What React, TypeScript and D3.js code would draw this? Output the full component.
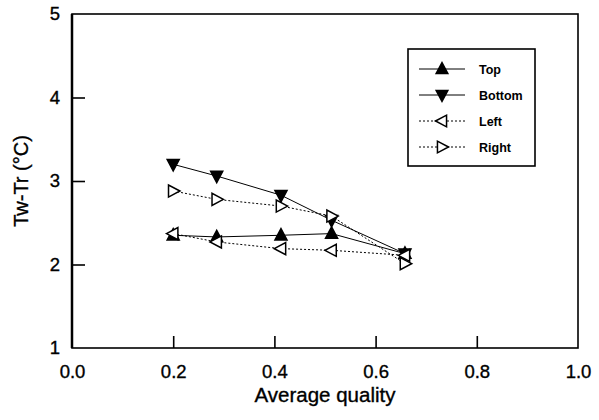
import React, { useEffect, useRef } from 'react';
import * as d3 from 'd3';

// x positions (average quality)
const quality = [0.2, 0.286, 0.413, 0.513, 0.658];
// Tw-Tr values per location
const topVals = [2.35, 2.33, 2.35, 2.37, 2.13];
const bottomVals = [3.2, 3.06, 2.83, 2.53, 2.13];
const leftVals = [2.37, 2.27, 2.19, 2.17, 2.11];
const rightVals = [2.88, 2.78, 2.7, 2.58, 2.01];

const seriesNames = ['Top', 'Bottom', 'Left', 'Right'];
const xTicks = [0.0, 0.2, 0.4, 0.6, 0.8, 1.0];
const yTicks = [1, 2, 3, 4, 5];

const App = () => {
  const svgRef = useRef<SVGSVGElement>(null);

  useEffect(() => {
    const svg = d3.select(svgRef.current);
    svg.selectAll('*').remove();

    const x = d3.scaleLinear().domain([0, 1]).range([72, 578]);
    const y = d3.scaleLinear().domain([1, 5]).range([348, 14]);
    const font = 'Arial, "Liberation Sans", sans-serif';

    // triangle path helpers
    const tri = (dir: string, s: number) => {
      if (dir === 'up') return `M0,${-s}L${s * 0.9},${s * 0.7}L${-s * 0.9},${s * 0.7}Z`;
      if (dir === 'down') return `M0,${s}L${s * 0.9},${-s * 0.7}L${-s * 0.9},${-s * 0.7}Z`;
      if (dir === 'left') return `M${-s},0L${s * 0.7},${-s * 0.9}L${s * 0.7},${s * 0.9}Z`;
      return `M${s},0L${-s * 0.7},${-s * 0.9}L${-s * 0.7},${s * 0.9}Z`;
    };

    const series = [
      { name: seriesNames[0], vals: topVals, dir: 'up', fill: '#000', dash: null },
      { name: seriesNames[1], vals: bottomVals, dir: 'down', fill: '#000', dash: null },
      { name: seriesNames[2], vals: leftVals, dir: 'left', fill: '#fff', dash: '2,2' },
      { name: seriesNames[3], vals: rightVals, dir: 'right', fill: '#fff', dash: '2,2' },
    ];

    // frame
    svg.append('rect')
      .attr('x', x(0)).attr('y', y(5))
      .attr('width', x(1) - x(0)).attr('height', y(1) - y(5))
      .attr('fill', 'none').attr('stroke', '#000').attr('stroke-width', 1.6);
    svg.append('line')
      .attr('x1', x(0)).attr('x2', x(0)).attr('y1', y(5)).attr('y2', y(1))
      .attr('stroke', '#000').attr('stroke-width', 2.5);

    const styleText = (sel: any, size: number) =>
      sel.attr('font-size', size).attr('font-family', font).attr('fill', '#000')
        .attr('stroke', '#000').attr('stroke-width', 0.35);

    // axes
    const xAxis = svg.append('g')
      .attr('transform', `translate(0,${y(1)})`)
      .call(d3.axisBottom(x).tickValues(xTicks).tickFormat(d3.format('.1f')).tickSizeInner(-12).tickSizeOuter(0).tickPadding(17));
    xAxis.select('.domain').remove();
    xAxis.selectAll('line').attr('stroke-width', 1.6).filter((d: any) => d === 0 || d === 1).remove();
    styleText(xAxis.selectAll('text'), 18.5);

    const yAxis = svg.append('g')
      .attr('transform', `translate(${x(0)},0)`)
      .call(d3.axisLeft(y).tickValues(yTicks).tickFormat(d3.format('d')).tickSizeInner(-13).tickSizeOuter(0).tickPadding(12));
    yAxis.select('.domain').remove();
    yAxis.selectAll('line').attr('stroke-width', 1.6).filter((d: any) => d === 1 || d === 5).remove();
    styleText(yAxis.selectAll('text'), 18.5);

    // axis titles
    styleText(svg.append('text')
      .attr('x', x(0.5)).attr('y', 402)
      .attr('text-anchor', 'middle')
      .text('Average quality'), 20.5);
    styleText(svg.append('text')
      .attr('transform', `translate(28,${y(3)}) rotate(-90)`)
      .attr('text-anchor', 'middle')
      .text('Tw-Tr (°C)'), 20);

    // lines and markers
    const line = d3.line<number>().x((_, i) => x(quality[i])).y(d => y(d));
    series.forEach(s => {
      svg.append('path')
        .attr('d', line(s.vals))
        .attr('fill', 'none').attr('stroke', '#000').attr('stroke-width', 1)
        .attr('stroke-dasharray', s.dash);
      svg.append('g').selectAll('path')
        .data(s.vals).join('path')
        .attr('transform', (d, i) => `translate(${x(quality[i])},${y(d)})`)
        .attr('d', tri(s.dir, 6.7))
        .attr('fill', s.fill).attr('stroke', '#000').attr('stroke-width', 1.5);
    });

    // legend
    const lg = svg.append('g');
    lg.append('rect')
      .attr('x', 408).attr('y', 49).attr('width', 127).attr('height', 117)
      .attr('fill', '#fff').attr('stroke', '#000').attr('stroke-width', 1.6);
    series.forEach((s, i) => {
      const ry = 69 + i * 26;
      lg.append('line')
        .attr('x1', 419).attr('x2', 465).attr('y1', ry).attr('y2', ry)
        .attr('stroke', '#000').attr('stroke-width', 1).attr('stroke-dasharray', s.dash);
      lg.append('path')
        .attr('transform', `translate(442,${ry})`)
        .attr('d', tri(s.dir, 6.5))
        .attr('fill', s.fill).attr('stroke', '#000').attr('stroke-width', 1.5);
      lg.append('text')
        .attr('x', 479).attr('y', ry + 4.5)
        .attr('font-size', 12.5).attr('font-weight', 'bold').attr('font-family', font)
        .text(s.name);
    });
  }, []);

  return (
    <div>
      <svg ref={svgRef} width={599} height={420} style={{ position: 'absolute', left: 0, top: 0, background: '#fff' }} />
    </div>
  );
};

export default App;
